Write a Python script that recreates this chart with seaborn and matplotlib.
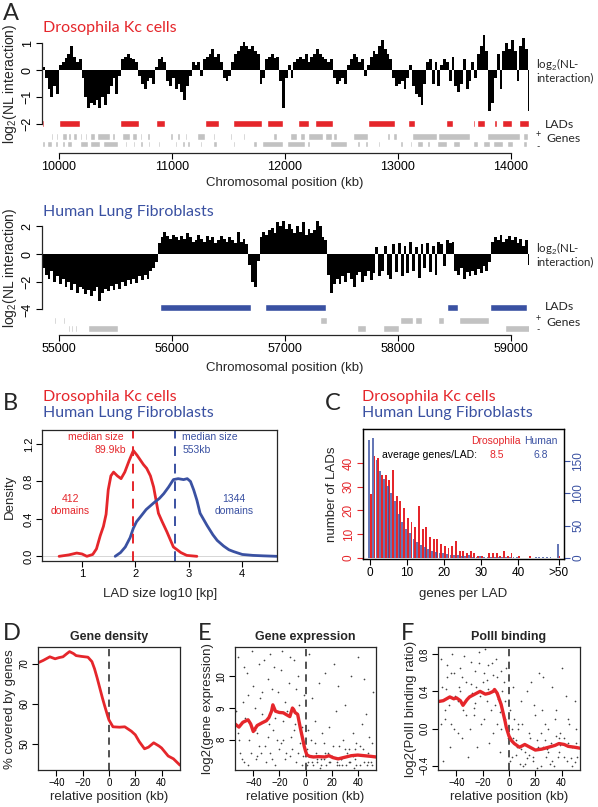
import numpy as np
import matplotlib
matplotlib.use("Agg")
import matplotlib.pyplot as plt
import seaborn as sns

# ---------------- data ----------------
RED = "#e5262b"
BLUE = "#3a51a2"

# Panel A (Drosophila) NL interaction, 25 kb bins starting at 9850 kb
dro_start, dro_step = 9850, 25
dro_nl = [
    0.1, -0.3, -0.7, -1.0, -0.6, -0.9, 0.2, 0.3,
    0.45, 0.6, 0.9, 0.5, 0.3, 0.4, -0.3, -1.0,
    -1.4, -1.2, -1.3, -1.1, -1.4, -1.0, -1.3, -0.9,
    -0.6, -0.3, -0.9, -0.2, 0.4, 0.5, 0.6, 0.45,
    0.4, 0.3, -0.2, -0.5, -0.7, -0.4, -0.3, -0.5,
    0.1, 0.4, 0.5, 0.3, -0.4, -0.6, -0.3, -0.7,
    -0.5, -0.8, -1.1, -0.6, -0.2, 0.3, 0.2, 0.3,
    -0.2, 0.4, 0.5, 0.6, 0.8, 0.5, 0.6, 0.3,
    -0.3, -0.4, -0.2, 0.3, 0.6, 0.7, 0.9, 1.05,
    0.9, 0.8, 0.9, 0.7, 0.6, -0.5, -0.3, 0.4,
    0.5, 0.6, 0.45, 0.5, -0.4, -1.4, -0.3, 0.2,
    -0.3, 0.3, 0.4, 0.5, 0.4, 0.6, 0.3, 0.5,
    0.6, 0.8, 0.6, 0.5, 0.4, 0.3, 0.4, -0.3,
    -0.5, -0.4, -0.3, -0.5, 0.2, 0.4, 0.6, 0.5,
    0.3, 0.4, -0.2, 0.2, 0.5, 0.7, 0.6, 0.9,
    1.1, 0.8, 0.6, 0.4, -0.3, -0.6, -0.5, -0.4,
    -0.7, -0.3, 0.2, -0.6, -0.9, -1.0, -1.3, -0.5,
    0.3, 0.4, -0.5, 0.3, -0.6, 0.2, 0.4, 0.3,
    -0.4, 0.5, -0.6, -0.8, -0.5, 0.4, -0.7, -0.4,
    0.3, -0.3, 0.6, 0.9, 1.3, 0.7, -1.5, -1.2,
    -0.3, 0.6, -0.7, 0.7, 1.0, 0.8, 1.1, 0.7,
    -0.4, 0.9, 1.2, 0.8, -1.5,
]
dro_lads = [(9850, 9866), (10003, 10189), (10540, 10711), (10862, 10935), (11290, 11416),
            (11540, 11800), (11838, 11985), (12112, 12212), (12265, 12422), (12731, 12976),
            (13085, 13150), (13425, 13490), (13519, 13534), (13590, 13605), (13666, 13681),
            (13702, 13770), (13805, 13814), (13850, 13879), (13917, 14006), (14071, 14159)]
dro_genes_plus = [(9900, 9911), (9926, 9950), (9973, 9994), (10024, 10068), (10083, 10103),
                  (10127, 10156), (10186, 10201), (10230, 10251), (10274, 10319), (10333, 10451),
                  (10466, 10496), (10555, 10628), (10643, 10687), (10717, 10732), (10776, 10805),
                  (10864, 10879), (10982, 11012), (11041, 11071), (11115, 11130), (11174, 11189),
                  (11218, 11292), (11366, 11381), (11513, 11528), (11631, 11646), (11705, 11720),
                  (11838, 11853), (11897, 11926), (11971, 11985), (12044, 12103), (12133, 12177),
                  (12206, 12339), (12354, 12413), (12428, 12457), (12604, 12737), (12900, 12929),
                  (12959, 12988), (13121, 13342), (13357, 13637), (13784, 14080), (14109, 14153)]
dro_genes_minus = [(9847, 9876), (9891, 9935), (9965, 9994), (10024, 10053), (10068, 10112),
                   (10186, 10260), (10274, 10363), (10392, 10525), (10584, 10599), (10658, 10673),
                   (10717, 10746), (10791, 10805), (10879, 10894), (10953, 10968), (11027, 11041),
                   (11086, 11115), (11130, 11159), (11248, 11263), (11366, 11395), (11484, 11499),
                   (11543, 11558), (11720, 11749), (11794, 11985), (12015, 12177), (12192, 12221),
                   (12398, 12546), (12634, 12664), (12708, 12737), (12826, 12841), (13018, 13047),
                   (13106, 13121), (13165, 13224), (13254, 13283), (13342, 13431), (13490, 13549),
                   (13667, 13711), (13755, 13814), (13844, 13932), (13962, 14021), (14109, 14139)]
dro_xticks = [10000, 11000, 12000, 13000, 14000]

# Panel A (Human) NL interaction, 25 kb bins starting at 54850 kb
hum_start, hum_step = 54850, 25
hum_nl = [
    -1.0, -1.5, -1.8, -1.2, -2.0, -1.6, -2.2, -1.8,
    -2.4, -2.0, -2.6, -2.2, -2.8, -2.4, -2.5, -2.9,
    -2.6, -3.0, -2.7, -2.4, -3.4, -2.8, -2.5, -2.7,
    -2.3, -2.6, -2.2, -2.5, -2.0, -2.3, -1.9, -2.2,
    -1.8, -2.1, -1.6, -1.9, -1.5, -1.8, -1.2, -1.0,
    -0.6, 0.8, 1.2, 1.6, 1.3, 1.1, 1.4, 1.2,
    1.0, 1.3, 1.1, 1.5, 1.2, 0.9, 1.0, 1.4,
    1.1, 0.9, 1.3, 1.0, 1.2, 0.8, 1.0, 1.3,
    1.1, 0.9, 1.2, 1.0, 0.8, 1.6, 0.9, 1.1,
    0.7, -0.8, -2.0, -2.4, -0.5, 1.2, 1.6, 1.4,
    1.7, 1.9, 1.5, 2.3, 2.0, 2.4, 1.8, 2.2,
    1.8, 1.5, 2.0, 1.6, 2.3, 1.4, 1.8, 1.5,
    1.7, 2.4, 2.0, 1.2, 1.0, -1.5, -2.8, -2.2,
    -1.8, -2.2, -1.6, -2.0, -1.4, -1.8, -2.4, -1.5,
    -1.3, -2.0, -1.6, -1.2, -1.9, -1.4, 0.5, -1.6,
    -1.2, 0.6, -1.5, -1.8, 0.7, -1.3, 0.8, -1.6,
    0.6, -1.4, 0.9, -1.2, 0.5, -1.7, 0.7, -1.0,
    0.8, -1.3, 0.6, -1.5, 0.9, 0.7, -0.9, 1.0,
    0.8, 0.9, -1.2, -1.5, -1.0, -1.8, -1.3, -1.6,
    -1.2, -1.5, -1.1, -1.4, -0.9, -1.2, -0.6, 0.9,
    1.2, 1.0, 1.4, 0.9, 1.1, 1.3, 1.0, 1.2,
    0.8, 1.1, 0.6, 1.0, -0.8,
]
hum_lads = [(55894, 56699), (56823, 57360), (58431, 58528), (58814, 59139)]
hum_genes_plus = [(54956, 54976), (55038, 55053), (55590, 55596), (55735, 55740), (55992, 55997),
                  (57310, 57372), (58018, 58130), (58150, 58210), (58351, 58410), (58540, 58805)]
hum_genes_minus = [(55080, 55095), (55110, 55125), (55140, 55160), (55257, 55522), (55860, 55865),
                   (56200, 56205), (56620, 56625), (57634, 57717), (57864, 58011), (58470, 58475),
                   (58947, 59168)]
hum_xticks = [55000, 56000, 57000, 58000, 59000]

# Panel B: LAD size densities
b_dro_x = [0.57, 0.75, 0.9, 1.0, 1.09, 1.2, 1.27, 1.34, 1.4, 1.45, 1.49, 1.54, 1.59, 1.66, 1.73,
           1.8, 1.88, 1.96, 2.03, 2.09, 2.15, 2.21, 2.28, 2.34, 2.43, 2.5, 2.59, 2.71, 2.85, 2.96, 3.15]
b_dro_y = [0.0, 0.015, 0.035, 0.025, 0.0, 0.02, 0.08, 0.22, 0.32, 0.45, 0.71, 0.86, 0.90, 0.86, 0.83,
           0.9, 1.02, 1.13, 1.08, 1.03, 0.98, 0.94, 0.86, 0.74, 0.46, 0.37, 0.26, 0.1, 0.04, 0.01, 0.0]
b_hum_x = [1.62, 1.72, 1.81, 1.9, 1.96, 2.02, 2.09, 2.2, 2.34, 2.45, 2.53, 2.62, 2.71, 2.8, 2.9,
           2.97, 3.03, 3.09, 3.15, 3.21, 3.34, 3.45, 3.53, 3.65, 3.75, 3.84, 4.0, 4.2, 4.4, 4.65]
b_hum_y = [0.0, 0.04, 0.1, 0.2, 0.3, 0.37, 0.42, 0.5, 0.57, 0.62, 0.67, 0.74, 0.82, 0.83, 0.82,
           0.83, 0.8, 0.71, 0.6, 0.46, 0.33, 0.23, 0.17, 0.11, 0.07, 0.05, 0.02, 0.01, 0.005, 0.0]
b_dro_median, b_hum_median = 1.95, 2.74

# Panel C: genes per LAD histogram (bin 51 = ">50")
c_genes = list(range(52))
c_dro = [27, 43, 42, 35, 35, 33, 37, 26, 24, 21, 17, 15, 13, 22, 12, 13, 9, 8, 8, 6, 5, 4, 5, 7, 3, 3,
         2, 3, 2, 1, 1, 0, 2, 2, 2, 1, 3, 1, 2, 0, 1, 0, 0, 1, 0, 0, 0, 0, 0, 0, 0, 1]
c_hum = [182, 186, 152, 135, 122, 112, 100, 88, 68, 56, 45, 38, 30, 24, 20, 17, 14, 11, 9, 8, 7, 6, 5,
         4, 4, 3, 3, 4, 2, 2, 3, 2, 1, 2, 1, 2, 1, 2, 2, 1, 1, 0, 0, 0, 0, 1, 2, 2, 1, 2, 0, 22]
c_xticks = [0, 10, 20, 30, 40, 51]
c_xticklabels = ["0", "10", "20", "30", "40", ">50"]

# Panel D: gene density
d_x = [-54, -50, -45, -41, -38, -35, -32, -30, -27, -25, -21, -16, -13, -11, -9, -7, -5, -3, -1, 0,
       3, 8, 12, 17, 20, 23, 27, 30, 34, 38, 40, 45, 49, 54]
d_y = [70.3, 70.9, 71.8, 71.3, 71.6, 71.8, 72.6, 73.1, 72.6, 72.1, 71.9, 71.7, 70.6, 68.8, 66.5, 64.0,
       61.5, 59.2, 57.0, 56.0, 54.3, 54.2, 54.3, 53.2, 52.3, 50.6, 48.8, 49.2, 50.3, 49.5, 49.0, 47.0,
       46.3, 44.7]

# Panel E: gene expression
e_x = [-54, -51, -48, -44, -42, -40, -37, -33, -30, -28, -26, -25, -23, -20, -17, -15, -12, -10, -9, -8,
       -6, -4, -2, -1, 0, 1, 3, 6, 10, 15, 18, 21, 25, 30, 35, 40, 45, 50, 54]
e_y = [8.5, 8.4, 8.55, 8.63, 8.5, 8.26, 8.45, 8.54, 8.6, 8.7, 8.9, 9.1, 8.9, 8.86, 8.85, 8.8, 8.73,
       9.0, 8.95, 8.86, 8.8, 8.38, 8.0, 7.8, 7.65, 7.53, 7.48, 7.46, 7.47, 7.46, 7.5, 7.44, 7.4, 7.45,
       7.5, 7.52, 7.5, 7.48, 7.46]
e_pts_x = [-52, -48, -45, -43, -40, -38, -36, -33, -31, -29, -27, -25, -23, -21, -19, -17, -15, -13, -11,
           -9, -7, -5, -3, -2, -50, -46, -41, -35, -30, -26, -22, -18, -14, -10, -6, -4, -53, -44, -37,
           -24, -16, -8, -1, -12, -20, -28, -34, -47, -39, -32,
           -51, -49, -44, -42, -39, -36, -33, -29, -26, -23, -19, -16, -12, -9, -6, -3, -52, -47, -37,
           -27, -17, -7,
           2, 4, 6, 8, 10, 12, 14, 16, 18, 20, 22, 24, 26, 28, 30, 32, 34, 36, 38, 40, 42, 44, 46, 48,
           50, 52, 3, 7, 11, 15, 19, 23, 27, 31, 35, 39, 43, 47, 51, 1, 5, 13, 17, 25, 33, 37, 45, 49,
           9, 29,
           1, 3, 5, 7, 9, 12, 15, 18, 21, 24, 27, 30, 33, 36, 39, 42, 45, 48, 51, 2, 14, 26, 38, 50]
e_pts_y = [10.6, 9.2, 10.1, 8.0, 9.7, 7.4, 10.4, 8.8, 7.8, 9.9, 10.7, 8.3, 7.2, 9.5, 10.2, 8.6, 7.6,
           9.8, 8.1, 10.5, 7.3, 9.1, 8.4, 7.5, 7.6, 8.7, 10.8, 9.3, 7.3, 9.6, 8.0, 10.8, 8.9, 7.7, 10.0,
           7.9, 8.9, 7.2, 8.2, 10.3, 7.4, 8.5, 9.4, 10.6, 7.7, 8.5, 7.6, 10.3, 9.0, 10.5,
           8.0, 7.4, 9.4, 7.6, 8.3, 7.8, 9.5, 8.1, 7.4, 8.7, 7.9, 9.2, 7.5, 8.3, 7.6, 7.2, 8.2, 7.3,
           7.5, 7.6, 8.0, 9.6,
           7.3, 8.0, 7.2, 7.6, 9.8, 7.4, 7.9, 7.2, 8.4, 7.5, 10.4, 7.3, 7.8, 7.2, 9.1, 7.6, 7.3, 8.2,
           7.4, 10.6, 7.2, 7.7, 8.8, 7.3, 7.5, 9.5, 10.7, 8.6, 7.1, 10.1, 7.3, 8.9, 7.4, 7.2, 10.0,
           7.9, 8.5, 7.2, 7.9, 7.7, 9.3, 8.2, 7.6, 9.7, 7.7, 7.1, 9.9, 8.1, 7.3, 8.0,
           7.2, 7.5, 7.3, 7.9, 7.4, 7.2, 7.6, 7.3, 7.8, 7.2, 7.4, 7.7, 7.3, 7.5, 7.2, 7.8, 7.3, 7.6,
           7.2, 8.3, 7.4, 7.2, 7.7, 7.3]

# Panel F: PolII binding
f_x = [-54, -50, -45, -42, -40, -37, -35, -32, -30, -26, -22, -18, -15, -12, -11, -9, -8, -6, -5, -3,
       -2, 0, 2, 4, 8, 12, 16, 20, 25, 30, 35, 38, 42, 45, 50, 54]
f_y = [0.29, 0.3, 0.34, 0.32, 0.33, 0.3, 0.25, 0.31, 0.34, 0.37, 0.4, 0.37, 0.38, 0.4, 0.42, 0.38, 0.34,
       0.26, 0.2, 0.08, 0.01, -0.08, -0.13, -0.16, -0.2, -0.17, -0.2, -0.23, -0.22, -0.2, -0.18, -0.16,
       -0.17, -0.19, -0.2, -0.21]
f_pts_x = [-52, -49, -47, -45, -43, -41, -39, -37, -35, -33, -31, -29, -27, -25, -23, -21, -19, -17, -15,
           -13, -11, -9, -7, -5, -3, -2, -53, -50, -46, -42, -38, -34, -30, -26, -22, -18, -14, -10, -6,
           -4, -48, -44, -36, -28, -24, -20, -16, -12, -8, -1,
           -51, -49, -44, -42, -39, -36, -33, -29, -26, -23, -19, -16, -12, -9, -6, -3, -52, -47, -37,
           -27, -17, -7,
           2, 4, 6, 8, 10, 12, 14, 16, 18, 20, 22, 24, 26, 28, 30, 32, 34, 36, 38, 40, 42, 44, 46, 48,
           50, 52, 3, 7, 11, 15, 19, 23, 27, 31, 35, 39, 43, 47, 51, 1, 5, 9, 13, 17, 21, 25, 29, 33,
           37, 45,
           1, 3, 5, 7, 9, 12, 15, 18, 21, 24, 27, 30, 33, 36, 39, 42, 45, 48, 51, 2, 14, 26, 38, 50]
f_pts_y = [0.75, 0.1, 0.55, -0.2, 0.8, 0.35, -0.05, 0.65, 0.2, 0.5, -0.3, 0.72, 0.15, 0.45, 0.82, 0.05,
           0.6, 0.3, -0.15, 0.7, 0.25, 0.55, -0.25, 0.4, 0.1, 0.65, 0.3, -0.35, 0.25, 0.6, 0.45, 0.78,
           0.0, 0.62, 0.35, 0.85, 0.2, 0.75, 0.0, 0.5, 0.42, 0.05, -0.1, 0.38, -0.2, 0.5, 0.68, -0.05,
           0.32, -0.1,
           0.45, 0.2, 0.6, 0.0, 0.3, 0.55, 0.15, 0.48, 0.28, 0.7, 0.1, 0.42, 0.58, 0.05, 0.62, 0.3,
           0.05, 0.68, 0.4, 0.22, 0.52, 0.18,
           -0.3, 0.1, -0.2, -0.38, 0.05, -0.25, 0.4, -0.1, -0.35, 0.15, -0.2, -0.05, 0.55, -0.3, 0.0,
           -0.15, -0.4, 0.2, -0.25, 0.65, -0.1, -0.35, 0.05, -0.2, 0.3, -0.3, 0.45, 0.05, -0.4, -0.28,
           0.25, 0.6, -0.12, -0.38, 0.1, -0.05, 0.35, -0.32, 0.0, 0.2, -0.12, 0.3, -0.18, 0.5, -0.42,
           0.2, -0.22, 0.45, -0.3, -0.15,
           -0.35, -0.1, -0.28, 0.0, -0.22, -0.38, -0.05, -0.3, -0.12, -0.4, 0.05, -0.25, -0.35, -0.08,
           -0.18, -0.3, 0.1, -0.4, -0.15, 0.0, -0.32, -0.2, -0.1, -0.36]

# ---------------- style ----------------
sns.set_style("ticks")
RFONT = ["Liberation Sans", "DejaVu Sans"]
MFONT = ["Lato", "DejaVu Sans"]
plt.rcParams["font.family"] = RFONT
plt.rcParams["mathtext.fontset"] = "custom"
plt.rcParams["mathtext.rm"] = "Liberation Sans"
plt.rcParams["mathtext.it"] = "Liberation Sans:italic"
plt.rcParams["axes.linewidth"] = 0.9

W, H = 598, 807
fig = plt.figure(figsize=(W / 100, H / 100), dpi=100)


def axes_px(l, t, r, b):
    return fig.add_axes([l / W, 1 - b / H, (r - l) / W, (b - t) / H])


def ftext(x, y, s, **kw):
    kw.setdefault("va", "center")
    fig.text(x / W, 1 - y / H, s, **kw)


def rstyle(ax, size):
    ax.tick_params(direction="out", length=4, width=0.8, labelsize=size, pad=2, colors="black")
    for lbl in ax.get_yticklabels():
        lbl.set_rotation(90)
        lbl.set_va("center")


# ---------------- Panel A ----------------
def track(ax, start, step, vals, lads, gp, gm, lad_y, lad_h, gp_y, gm_y, g_h, color,
          xlim, ylim, yb, xt, yt):
    pos = start + step * np.arange(len(vals))
    ax.bar(pos, vals, width=step, align="edge", color="black", linewidth=0)
    ax.broken_barh([(s, e - s) for s, e in lads], (lad_y - lad_h / 2, lad_h), facecolors=color)
    ax.broken_barh([(s, e - s) for s, e in gp], (gp_y - g_h / 2, g_h), facecolors="#c2c2c2")
    ax.broken_barh([(s, e - s) for s, e in gm], (gm_y - g_h / 2, g_h), facecolors="#c2c2c2")
    ax.set_xlim(*xlim)
    ax.set_ylim(*ylim)
    ax.set_xticks(xt)
    ax.set_xticklabels([str(v) for v in xt])
    ax.set_yticks(yt)
    ax.spines["top"].set_visible(False)
    ax.spines["right"].set_visible(False)
    ax.spines["left"].set_bounds(*yb)
    ax.spines["bottom"].set_bounds(xt[0], xt[-1])
    rstyle(ax, 9)


axA1 = axes_px(42, 35, 529, 153)
track(axA1, dro_start, dro_step, dro_nl, dro_lads, dro_genes_plus, dro_genes_minus,
      -1.96, 0.26, -2.46, -2.74, 0.24, RED, (9850, 14160), (-3.07, 1.3), (-2, 1),
      dro_xticks, [-2, -1, 0, 1])
axA1.set_yticklabels(["\u22122", "\u22121", "0", "1"])

axA2 = axes_px(42, 218, 529, 335)
track(axA2, hum_start, hum_step, hum_nl, hum_lads, hum_genes_plus, hum_genes_minus,
      -3.87, 0.5, -4.80, -5.38, 0.48, BLUE, (54850, 59160), (-5.85, 2.6), (-4, 2),
      hum_xticks, [-4, -2, 0, 2])
axA2.set_yticklabels(["\u22124", "\u22122", "0", "2"])

ftext(3, 13, "A", fontsize=17, family=MFONT)
ftext(43, 28, "Drosophila Kc cells", color=RED, fontsize=11.5, family=MFONT)
ftext(43, 212, "Human Lung Fibroblasts", color=BLUE, fontsize=11.5, family=MFONT)
ftext(10, 84, "log$_2$(NL interaction)", rotation=90, ha="center", fontsize=10)
ftext(10, 268, "log$_2$(NL interaction)", rotation=90, ha="center", fontsize=10)
ftext(285, 183, "Chromosomal position (kb)", ha="center", fontsize=9.5)
ftext(285, 368, "Chromosomal position (kb)", ha="center", fontsize=9.5)
for yl, ylad, ygp, ygm in [(70, 124, 137, 145), (254, 307, 321, 328)]:
    ftext(536, yl, "log$_2$(NL-\ninteraction)", ha="left", fontsize=8.3, family=MFONT,
          linespacing=1.0)
    ftext(545, ylad, "LADs", ha="left", fontsize=8.8, family=MFONT)
    ftext(546, ygp + 1, "Genes", ha="left", fontsize=8.8, family=MFONT)
    ftext(538, ygp - 2, "+", ha="center", fontsize=6.5, family=MFONT)
    ftext(538, ygm + 2, "-", ha="center", fontsize=6.5, family=MFONT)

# ---------------- Panel B ----------------
axB = axes_px(42, 430, 277, 561)
axB.axhline(0, color="#d0d0d0", lw=0.6)
sns.lineplot(x=b_dro_x, y=b_dro_y, ax=axB, color=RED, lw=2, estimator=None, sort=False)
sns.lineplot(x=b_hum_x, y=b_hum_y, ax=axB, color=BLUE, lw=2, estimator=None, sort=False)
axB.axvline(b_dro_median, color=RED, lw=1.4, ls=(0, (5, 4)))
axB.axvline(b_hum_median, color=BLUE, lw=1.4, ls=(0, (5, 4)))
axB.set_xlim(0.25, 4.65)
axB.set_ylim(-0.05, 1.35)
axB.set_xticks([1, 2, 3, 4])
axB.set_yticks([0.0, 0.4, 0.8, 1.2])
axB.set_yticklabels(["0.0", "0.4", "0.8", "1.2"])
rstyle(axB, 8)
axB.text(1.77, 1.275, "median size", color=RED, ha="right", va="center", fontsize=7.5)
axB.text(1.82, 1.135, "89.9kb", color=RED, ha="right", va="center", fontsize=7.5)
axB.text(2.88, 1.275, "median size", color=BLUE, ha="left", va="center", fontsize=7.5)
axB.text(2.88, 1.135, "553kb", color=BLUE, ha="left", va="center", fontsize=7.5)
axB.text(0.78, 0.61, "412", color=RED, ha="center", va="center", fontsize=7.5)
axB.text(0.78, 0.48, "domains", color=RED, ha="center", va="center", fontsize=7.5)
axB.text(3.84, 0.61, "1344", color=BLUE, ha="center", va="center", fontsize=7.5)
axB.text(3.84, 0.48, "domains", color=BLUE, ha="center", va="center", fontsize=7.5)
ftext(3, 404, "B", fontsize=17, family=MFONT)
ftext(43, 397, "Drosophila Kc cells", color=RED, fontsize=11.5, family=MFONT)
ftext(43, 413, "Human Lung Fibroblasts", color=BLUE, fontsize=11.5, family=MFONT)
ftext(10, 497, "Density", rotation=90, ha="center", fontsize=9.5)
ftext(160, 594, "LAD size log10 [kp]", ha="center", fontsize=9.5)

# ---------------- Panel C ----------------
axC = axes_px(363, 429, 564, 559)
axC2 = axC.twinx()
axC.bar(np.array(c_genes) + 0.2, c_dro, width=0.5, color=RED, linewidth=0)
axC2.bar(np.array(c_genes) - 0.25, c_hum, width=0.5, color=BLUE, alpha=0.78, linewidth=0)
axC.set_xlim(-1.9, 52.4)
axC.set_ylim(-0.42, 54.3)
axC2.set_ylim(-1.5, 199.4)
axC.set_xticks(c_xticks)
axC.set_xticklabels(c_xticklabels)
axC.set_yticks([0, 10, 20, 30, 40])
axC2.set_yticks([0, 50, 100, 150])
rstyle(axC, 8.5)
rstyle(axC2, 8.5)
axC.tick_params(axis="y", colors=RED)
axC2.tick_params(axis="y", colors=BLUE)
axC.tick_params(axis="x", colors="black")
for sp in axC2.spines.values():
    sp.set_color("black")
axC.text(0.663, 0.905, "Drosophila", color=RED, ha="center", va="center", fontsize=7.5,
         transform=axC.transAxes)
axC.text(0.883, 0.905, "Human", color=BLUE, ha="center", va="center", fontsize=7.5,
         transform=axC.transAxes)
axC.text(0.33, 0.80, "average genes/LAD:", color="black", ha="center", va="center", fontsize=7.5,
         transform=axC.transAxes)
axC.text(0.663, 0.80, "8.5", color=RED, ha="center", va="center", fontsize=7.5,
         transform=axC.transAxes)
axC.text(0.883, 0.80, "6.8", color=BLUE, ha="center", va="center", fontsize=7.5,
         transform=axC.transAxes)
ftext(325, 403, "C", fontsize=17, family=MFONT)
ftext(362, 397, "Drosophila Kc cells", color=RED, fontsize=11.5, family=MFONT)
ftext(362, 413, "Human Lung Fibroblasts", color=BLUE, fontsize=11.5, family=MFONT)
ftext(332, 494, "number of LADs", rotation=90, ha="center", fontsize=9.5)
ftext(463, 594, "genes per LAD", ha="center", fontsize=9.5)


# ---------------- Panels D, E, F ----------------
def small_panel(l, r, ylim, yticks, yticklabels, title, ylabel, ylab_x, letter, letter_x):
    ax = axes_px(l, 647, r, 770)
    ax.set_xlim(-54, 54)
    ax.set_ylim(*ylim)
    ax.set_xticks([-40, -20, 0, 20, 40])
    ax.set_xticklabels(["\u221240", "\u221220", "0", "20", "40"])
    ax.set_yticks(yticks)
    ax.set_yticklabels(yticklabels)
    rstyle(ax, 7)
    ax.axvline(0, color="#444444", lw=1.3, ls=(0, (4, 3)), zorder=1)
    cx = (l + r) / 2
    ftext(cx, 637, title, ha="center", fontsize=9, weight="bold")
    ftext(cx, 797, "relative position (kb)", ha="center", fontsize=9.5)
    ftext(ylab_x, 709, ylabel, rotation=90, ha="center", fontsize=9.5)
    ftext(letter_x, 633, letter, fontsize=17, family=MFONT)
    return ax


axD = small_panel(38, 180, (43.5, 74.25), [50, 60, 70], ["50", "60", "70"],
                  "Gene density", "% covered by genes", 10, "D", 3)
sns.lineplot(x=d_x, y=d_y, ax=axD, color=RED, lw=2, estimator=None, sort=False)

axE = small_panel(235, 376, (7.05, 10.92), [8, 9, 10], ["8", "9", "10"],
                  "Gene expression", "log2(gene expression)", 208, "E", 198)
sns.scatterplot(x=e_pts_x, y=e_pts_y, ax=axE, s=1.5, color="#444444", linewidth=0)
sns.lineplot(x=e_x, y=e_y, ax=axE, color=RED, lw=2.4, estimator=None, sort=False)

axF = small_panel(438, 580, (-0.444, 0.876), [-0.4, 0.0, 0.4, 0.8],
                  ["\u22120.4", "0.0", "0.4", "0.8"],
                  "PolII binding", "log2(PolII binding ratio)", 411, "F", 401)
sns.scatterplot(x=f_pts_x, y=f_pts_y, ax=axF, s=1.5, color="#444444", linewidth=0)
sns.lineplot(x=f_x, y=f_y, ax=axF, color=RED, lw=2.4, estimator=None, sort=False)

fig.savefig("out.png", dpi=100)
